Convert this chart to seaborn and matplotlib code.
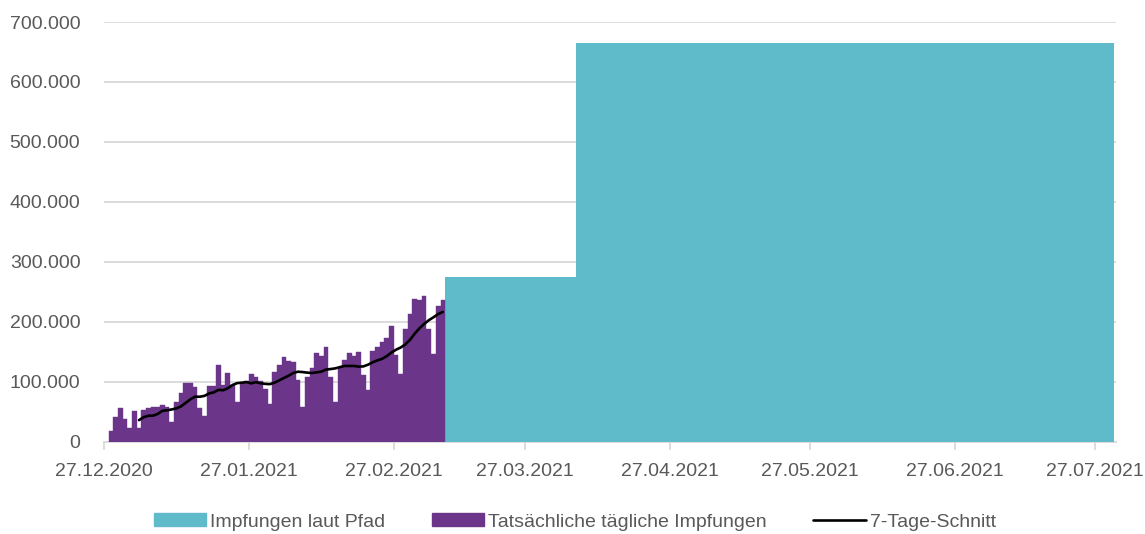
import seaborn as sns
import pandas as pd
import matplotlib.pyplot as plt
import matplotlib.dates as mdates
from matplotlib.ticker import FuncFormatter
from matplotlib.patches import Patch
from matplotlib.lines import Line2D

# Daily vaccinations, starting 28.12.2020
first_day = "2020-12-28"
daily_vaccinations = [
    19000, 41000, 57000, 38000, 24000, 52000, 24000, 54000, 57000, 58000,
    58000, 61000, 58000, 34000, 66000, 81000, 99000, 99000, 92000, 57000,
    44000, 94000, 94000, 128000, 95000, 115000, 95000, 66000, 99000, 101000,
    113000, 109000, 102000, 88000, 63000, 116000, 128000, 141000, 135000, 134000,
    103000, 59000, 109000, 124000, 149000, 143000, 158000, 109000, 67000, 124000,
    137000, 149000, 143000, 150000, 112000, 87000, 152000, 159000, 167000, 174000,
    193000, 145000, 113000, 189000, 213000, 238000, 236000, 243000, 189000, 147000,
    227000, 237000,
]

# Planned path (step levels)
plan_dates = ["2021-03-10", "2021-04-07", "2021-07-31"]
plan_values = [275000, 665000, 665000]

tick_dates = ["2020-12-27", "2021-01-27", "2021-02-27", "2021-03-27",
              "2021-04-27", "2021-05-27", "2021-06-27", "2021-07-27"]

labels = ["Impfungen laut Pfad", "Tatsächliche tägliche Impfungen", "7-Tage-Schnitt"]

TEAL = "#5FBAC9"
PURPLE = "#6B3589"
GRID = "#D9D9D9"
TEXT = "#595959"
FS = 14

# Build data
daily = pd.DataFrame({
    "Datum": pd.date_range(first_day, periods=len(daily_vaccinations), freq="D"),
    "Impfungen": daily_vaccinations,
})
daily["Schnitt"] = daily["Impfungen"].rolling(7).mean()
# line drawn at the middle of each day's column
daily["Mitte"] = daily["Datum"] + pd.Timedelta(hours=12)
plan = pd.DataFrame({"Datum": pd.to_datetime(plan_dates), "Wert": plan_values})

sns.set_theme(style="white")
plt.rcParams["font.family"] = ["Liberation Sans", "DejaVu Sans"]

fig = plt.figure(figsize=(11.45, 5.34), dpi=100)
ax = fig.add_axes([0.0908, 0.1723, 0.8838, 0.7865])

# Planned path as stepped area
ax.fill_between(plan["Datum"], plan["Wert"], step="post", color=TEAL, linewidth=0, zorder=2)

# Actual daily columns
ax.bar(daily["Datum"], daily["Impfungen"], width=1.0, align="edge",
       color=PURPLE, edgecolor=PURPLE, linewidth=0.3, zorder=3)

# 7-day average
sns.lineplot(data=daily.dropna(), x="Mitte", y="Schnitt", color="black",
             linewidth=1.9, ax=ax, zorder=4)

# Axes styling
start = pd.Timestamp("2020-12-27")
ax.set_xlim(start, start + pd.Timedelta(days=216.5))
ax.set_ylim(0, 700000)
ax.set_yticks(range(0, 700001, 100000))
ax.yaxis.set_major_formatter(FuncFormatter(lambda v, p: f"{int(v):,}".replace(",", ".")))
ax.set_xticks(pd.to_datetime(tick_dates))
ax.xaxis.set_major_formatter(mdates.DateFormatter("%d.%m.%Y"))

ax.grid(axis="y", color=GRID, linewidth=1.3, zorder=0)
ax.set_axisbelow(True)
for side in ["top", "right", "left"]:
    ax.spines[side].set_visible(False)
ax.spines["bottom"].set_color(GRID)
ax.spines["bottom"].set_linewidth(1.3)
ax.spines["bottom"].set_zorder(1)

ax.tick_params(axis="x", colors=GRID, length=6, width=1.3, labelcolor=TEXT,
               labelsize=FS, pad=9, direction="out", bottom=True)
ax.tick_params(axis="y", length=0, labelcolor=TEXT, labelsize=FS, pad=17)
ax.set_xlabel("")
ax.set_ylabel("")

# Legend
handles = [Patch(color=TEAL), Patch(color=PURPLE), Line2D([0], [0], color="black", linewidth=1.9)]
fig.legend(handles, labels, loc="center", bbox_to_anchor=(0.502, 0.0225), ncol=3,
           frameon=False, fontsize=FS, labelcolor=TEXT, handlelength=2.7, handleheight=0.65,
           handletextpad=0.2, columnspacing=2.4)

fig.savefig("out.png", dpi=100)
